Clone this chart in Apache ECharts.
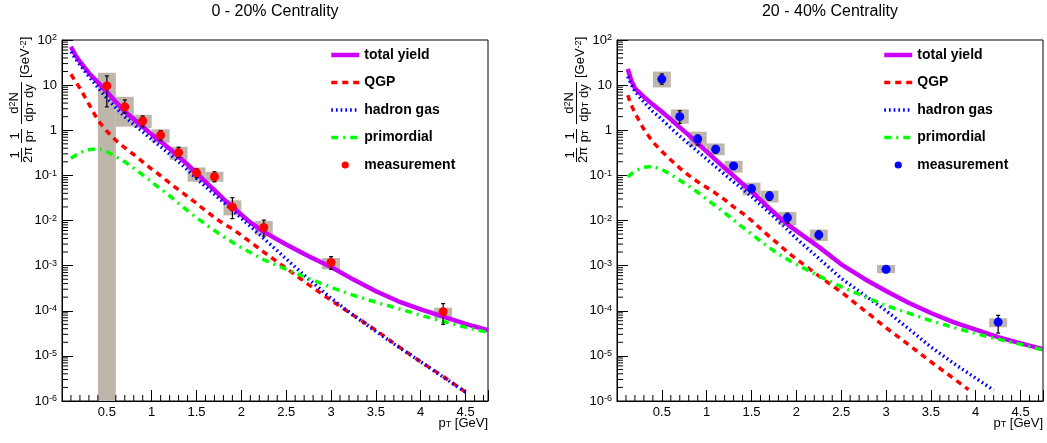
<!DOCTYPE html>
<html><head><meta charset="utf-8">
<script src="https://cdn.jsdelivr.net/npm/echarts@6/dist/echarts.min.js"></script>
<style>html,body{margin:0;padding:0;background:#fff}#c{width:1047px;height:443px}</style>
</head><body><div id="c"></div>
<script>
// ---------------- data ----------------
const panelTitles = ['0 - 20% Centrality', '20 - 40% Centrality'];
const legendNames = ['total yield', 'QGP', 'hadron gas', 'primordial', 'measurement'];
const xTickValues = [0.5, 1, 1.5, 2, 2.5, 3, 3.5, 4, 4.5];
const yTickValues = [1e-6, 1e-5, 1e-4, 1e-3, 1e-2, 1e-1, 1, 10, 100];

// 0 - 20 %
const totalYield020 = [[0.1,71],[0.15,46],[0.2,33],[0.3,18.6],[0.4,11.5],[0.5,7.1],[0.6,4.3],[0.7,2.6],[0.8,1.78],[0.9,1.2],[1.0,0.81],[1.1,0.56],[1.2,0.39],[1.3,0.26],[1.4,0.174],[1.5,0.112],[1.6,0.072],[1.7,0.047],[1.8,0.030],[1.9,0.020],[2.0,0.0135],[2.1,0.0091],[2.25,0.0056],[2.5,0.00295],[2.75,0.00162],[3.0,9.3e-4],[3.25,4.9e-4],[3.5,2.7e-4],[3.75,1.62e-4],[4.0,1.07e-4],[4.25,7.4e-5],[4.5,5.1e-5],[4.75,3.7e-5]];
const qgp020 = [[0.1,17.4],[0.15,12.0],[0.2,8.5],[0.3,3.8],[0.4,1.66],[0.5,0.95],[0.6,0.60],[0.7,0.41],[0.8,0.29],[0.9,0.20],[1.0,0.138],[1.1,0.098],[1.2,0.068],[1.3,0.048],[1.4,0.034],[1.5,0.024],[1.6,0.0166],[1.7,0.0117],[1.8,0.0085],[1.9,0.0065],[2.0,0.0047],[2.25,0.0020],[2.5,8.7e-4],[2.75,3.8e-4],[3.0,1.7e-4],[3.25,7.9e-5],[3.5,3.7e-5],[3.75,1.62e-5],[4.0,7.4e-6],[4.25,3.5e-6],[4.5,1.58e-6]];
const hadronGas020 = [[0.1,55],[0.15,38],[0.2,28],[0.3,15.5],[0.4,8.9],[0.5,5.1],[0.6,3.16],[0.7,2.0],[0.8,1.35],[0.9,0.93],[1.0,0.63],[1.1,0.43],[1.2,0.295],[1.3,0.20],[1.4,0.132],[1.5,0.085],[1.7,0.038],[1.9,0.017],[2.1,0.0074],[2.25,0.0040],[2.5,0.00141],[2.75,5.0e-4],[3.0,1.9e-4],[3.25,7.9e-5],[3.5,3.5e-5],[3.75,1.58e-5],[4.0,7.4e-6],[4.25,3.4e-6],[4.5,1.58e-6]];
const primordial020 = [[0.1,0.24],[0.2,0.32],[0.3,0.37],[0.4,0.39],[0.5,0.34],[0.6,0.26],[0.7,0.20],[0.8,0.145],[0.9,0.102],[1.0,0.072],[1.1,0.050],[1.2,0.035],[1.3,0.024],[1.4,0.0166],[1.5,0.0115],[1.6,0.0083],[1.7,0.0060],[1.8,0.0044],[1.9,0.0033],[2.0,0.0025],[2.25,0.00135],[2.5,8.3e-4],[2.75,5.2e-4],[3.0,3.3e-4],[3.25,2.2e-4],[3.5,1.55e-4],[3.75,1.12e-4],[4.0,7.9e-5],[4.25,5.8e-5],[4.5,4.3e-5],[4.75,3.3e-5]];
const measX020 = [0.5, 0.7, 0.9, 1.1, 1.3, 1.5, 1.7, 1.9, 2.25, 3.0, 4.25];
const measY020 = [9.6, 3.3, 1.6, 0.78, 0.32, 0.114, 0.093, 0.020, 0.0070, 1.17e-3, 9.5e-5];
const statLo020 = [3.3, 2.4, 1.20, 0.60, 0.25, 0.09, 0.072, 0.011, 0.0045, 8.3e-4, 5.0e-5];
const statHi020 = [16, 4.7, 2.07, 0.98, 0.42, 0.14, 0.12, 0.032, 0.0102, 1.58e-3, 1.44e-4];
const sysLo020 = [1e-7, 1.2, 1.12, 0.53, 0.22, 0.072, 0.072, 0.013, 0.0048, 8.3e-4, 6.8e-5];
const sysHi020 = [18.8, 5.5, 2.2, 1.05, 0.43, 0.15, 0.12, 0.028, 0.0098, 1.48e-3, 1.17e-4];

// 20 - 40 %
const totalYield2040 = [[0.12,23],[0.16,12.5],[0.2,8.5],[0.3,5.5],[0.4,3.7],[0.5,2.57],[0.6,1.74],[0.7,1.16],[0.8,0.78],[0.9,0.51],[1.0,0.335],[1.1,0.22],[1.2,0.146],[1.3,0.098],[1.4,0.065],[1.5,0.044],[1.6,0.0285],[1.7,0.0186],[1.8,0.0123],[1.9,0.0083],[2.0,0.0059],[2.25,0.0026],[2.5,0.00107],[2.75,5.2e-4],[3.0,2.75e-4],[3.25,1.51e-4],[3.5,8.9e-5],[3.75,5.6e-5],[4.0,3.8e-5],[4.25,2.6e-5],[4.5,1.9e-5],[4.75,1.41e-5]];
const qgp2040 = [[0.12,6.0],[0.15,4.0],[0.2,2.4],[0.3,1.05],[0.4,0.55],[0.5,0.34],[0.6,0.22],[0.7,0.145],[0.8,0.100],[0.9,0.072],[1.0,0.054],[1.1,0.040],[1.2,0.029],[1.3,0.020],[1.4,0.0145],[1.5,0.0100],[1.6,0.0066],[1.7,0.0044],[1.8,0.0030],[1.9,0.0020],[2.0,0.0014],[2.25,5.9e-4],[2.5,2.6e-4],[2.75,1.05e-4],[3.0,4.2e-5],[3.25,1.78e-5],[3.5,7.4e-6],[3.75,3.2e-6],[3.92,1.78e-6]];
const hadronGas2040 = [[0.12,15.5],[0.15,11.2],[0.2,7.2],[0.3,4.2],[0.4,2.6],[0.5,1.74],[0.6,1.12],[0.7,0.74],[0.8,0.50],[0.9,0.34],[1.0,0.23],[1.1,0.155],[1.2,0.105],[1.3,0.072],[1.4,0.050],[1.5,0.034],[1.6,0.0224],[1.7,0.0148],[1.8,0.0098],[1.9,0.0063],[2.0,0.0040],[2.25,0.00145],[2.5,5.2e-4],[2.75,2.3e-4],[3.0,1.0e-4],[3.25,4.0e-5],[3.5,1.58e-5],[3.75,6.9e-6],[4.0,3.2e-6],[4.2,1.74e-6]];
const primordial2040 = [[0.12,0.093],[0.2,0.126],[0.3,0.151],[0.4,0.158],[0.5,0.135],[0.6,0.105],[0.7,0.078],[0.8,0.058],[0.9,0.042],[1.0,0.030],[1.1,0.021],[1.2,0.0148],[1.3,0.0102],[1.4,0.0071],[1.5,0.0050],[1.6,0.0035],[1.7,0.0025],[1.8,0.0018],[1.9,0.00138],[2.0,0.00107],[2.25,5.9e-4],[2.5,3.4e-4],[2.75,2.1e-4],[3.0,1.3e-4],[3.25,8.9e-5],[3.5,6.0e-5],[3.75,4.3e-5],[4.0,3.1e-5],[4.25,2.35e-5],[4.5,1.8e-5],[4.75,1.35e-5]];
const measX2040 = [0.5, 0.7, 0.9, 1.1, 1.3, 1.5, 1.7, 1.9, 2.25, 3.0, 4.25];
const measY2040 = [13.6, 2.0, 0.64, 0.38, 0.162, 0.051, 0.035, 0.0115, 4.8e-3, 8.3e-4, 5.6e-5];
const statLo2040 = [10.5, 1.41, 0.47, 0.31, 0.135, 0.042, 0.028, 0.0088, 3.9e-3, 7.0e-4, 3.2e-5];
const statHi2040 = [17.7, 2.7, 0.78, 0.46, 0.19, 0.060, 0.043, 0.0145, 5.9e-3, 9.6e-4, 7.9e-5];
const sysLo2040 = [8.9, 1.4, 0.43, 0.28, 0.115, 0.036, 0.025, 0.0079, 3.5e-3, 6.8e-4, 4.3e-5];
const sysHi2040 = [20, 2.9, 0.93, 0.51, 0.21, 0.069, 0.046, 0.0155, 6.3e-3, 1.03e-3, 6.8e-5];

// ---------------- style / layout ----------------
const FONT = 'Liberation Sans, Arial, Helvetica, sans-serif';
const X_MIN = 0, X_MAX = 4.75, Y_MIN = 1e-6, Y_MAX = 100;
const BOX_HALF_WIDTH = 0.1;
const BOX_COLOR = '#beb5ab';
const C_TOTAL = '#cc00ff', C_QGP = '#ff0000', C_HG = '#0000ff', C_PRIM = '#00ff00';
const grids = [
  {left: 62, top: 40, width: 426, height: 361},
  {left: 617, top: 40, width: 426, height: 361}
];
const legendLeft = [329, 882];

// minor tick positions (axis furniture)
const xMinorTicks = [];
for (let i = 1; i < 48; i++) { if (i % 5 !== 0) xMinorTicks.push(+(i / 10).toFixed(1)); }
const yMinorTicks = [];
for (let e = -6; e < 2; e++) { for (let m = 2; m <= 9; m++) yMinorTicks.push(m * Math.pow(10, e)); }

const supRich = {
  n: {fontSize: 13, fontFamily: FONT, color: '#000', verticalAlign: 'bottom'},
  sup: {fontSize: 9, lineHeight: 9, fontFamily: FONT, color: '#000', padding: [0, 0, 7, 0], verticalAlign: 'top'},
  sub: {fontSize: 9, lineHeight: 9, fontFamily: FONT, color: '#000', padding: [7, 0, 0, 0], verticalAlign: 'bottom'},
  b: {fontSize: 13, fontFamily: FONT, color: '#000', verticalAlign: 'top'}
};

function yLabel(v) {
  const e = Math.round(Math.log10(v));
  if (e === 0) return '{n|1}';
  if (e === 1) return '{n|10}';
  return '{n|10}{sup|' + e + '}';
}
function xLabel(v) {
  if (v <= 0) return '';
  if (Math.abs(v * 2 - Math.round(v * 2)) > 1e-9) return '';
  return String(v);
}

function renderBox(params, api) {
  const x = api.value(0), lo = api.value(1), hi = api.value(2);
  const p1 = api.coord([x - BOX_HALF_WIDTH, hi]);
  const p2 = api.coord([x + BOX_HALF_WIDTH, lo]);
  const r = echarts.graphic.clipRectByRect(
    {x: p1[0], y: p1[1], width: p2[0] - p1[0], height: p2[1] - p1[1]}, params.coordSys);
  return r && {type: 'rect', shape: r, style: {fill: BOX_COLOR}};
}
function renderErr(params, api) {
  const x = api.value(0);
  const a = api.coord([x, api.value(1)]);
  const b = api.coord([x, api.value(2)]);
  const st = {stroke: '#000', lineWidth: 1.2};
  return {type: 'group', children: [
    {type: 'line', shape: {x1: a[0], y1: a[1], x2: b[0], y2: b[1]}, style: st},
    {type: 'line', shape: {x1: a[0] - 2, y1: a[1], x2: a[0] + 2, y2: a[1]}, style: st},
    {type: 'line', shape: {x1: b[0] - 2, y1: b[1], x2: b[0] + 2, y2: b[1]}, style: st}
  ]};
}
function renderYMinor(params, api) {
  const p = api.coord([api.value(0), api.value(1)]);
  return {type: 'line', shape: {x1: p[0], y1: p[1], x2: p[0] + 6, y2: p[1]}, style: {stroke: '#000', lineWidth: 1}};
}
function renderXMinor(params, api) {
  const p = api.coord([api.value(0), api.value(1)]);
  return {type: 'line', shape: {x1: p[0], y1: p[1], x2: p[0], y2: p[1] - 6}, style: {stroke: '#000', lineWidth: 1}};
}

const panels = [
  {total: totalYield020, qgp: qgp020, hg: hadronGas020, prim: primordial020,
   mx: measX020, my: measY020, sl: statLo020, sh: statHi020, yl: sysLo020, yh: sysHi020, mc: '#ff0000', suffix: ''},
  {total: totalYield2040, qgp: qgp2040, hg: hadronGas2040, prim: primordial2040,
   mx: measX2040, my: measY2040, sl: statLo2040, sh: statHi2040, yl: sysLo2040, yh: sysHi2040, mc: '#0000ff', suffix: ' '}
];

const series = [];
const legends = [];
const xAxes = [], yAxes = [];
const graphics = [];

panels.forEach((P, i) => {
  const nm = legendNames.map(n => n + P.suffix);
  xAxes.push({
    type: 'value', gridIndex: i, min: X_MIN, max: X_MAX, interval: 0.5,
    axisLine: {show: true, onZero: false, lineStyle: {color: '#000', width: 1}},
    axisTick: {show: true, inside: true, length: 11, lineStyle: {color: '#000', width: 1}},
    axisLabel: {show: true, margin: 5, formatter: xLabel, color: '#000', fontSize: 13, fontFamily: FONT},
    splitLine: {show: false}
  });
  yAxes.push({
    type: 'log', logBase: 10, gridIndex: i, min: Y_MIN, max: Y_MAX, splitNumber: 8,
    axisLine: {show: true, onZero: false, lineStyle: {color: '#000', width: 1}},
    axisTick: {show: true, inside: true, length: 11, lineStyle: {color: '#000', width: 1}},
    axisLabel: {show: true, margin: 5, formatter: yLabel, rich: supRich},
    splitLine: {show: false}
  });
  const base = {xAxisIndex: i, yAxisIndex: i, animation: false, silent: true};
  series.push(Object.assign({type: 'custom', name: 'sys' + i, renderItem: renderBox, z: 1,
    encode: {x: 0, y: [1, 2]},
    data: P.mx.map((x, k) => [x, P.yl[k], P.yh[k]])}, base));
  series.push(Object.assign({type: 'custom', name: 'ytick' + i, renderItem: renderYMinor, z: 5,
    data: yMinorTicks.map(v => [X_MIN, v])}, base));
  series.push(Object.assign({type: 'custom', name: 'xtick' + i, renderItem: renderXMinor, z: 5,
    data: xMinorTicks.map(v => [v, Y_MIN])}, base));
  const lineBase = Object.assign({type: 'line', symbol: 'none', smooth: false, z: 2}, base);
  series.push(Object.assign({}, lineBase, {name: nm[0], data: P.total, itemStyle: {color: C_TOTAL},
    lineStyle: {color: C_TOTAL, width: 4.5, type: 'solid', join: 'round'}}));
  series.push(Object.assign({}, lineBase, {name: nm[1], data: P.qgp, itemStyle: {color: C_QGP},
    lineStyle: {color: C_QGP, width: 3.5, type: [6, 5]}}));
  series.push(Object.assign({}, lineBase, {name: nm[2], data: P.hg, itemStyle: {color: C_HG},
    lineStyle: {color: C_HG, width: 3.5, type: [1.7, 3]}}));
  series.push(Object.assign({}, lineBase, {name: nm[3], data: P.prim, itemStyle: {color: C_PRIM},
    lineStyle: {color: C_PRIM, width: 3.5, type: [7, 5, 2, 5]}}));
  series.push(Object.assign({type: 'custom', name: 'stat' + i, renderItem: renderErr, z: 3,
    encode: {x: 0, y: [1, 2]},
    data: P.mx.map((x, k) => [x, P.sl[k], P.sh[k]])}, base));
  series.push(Object.assign({type: 'line', name: nm[4], symbol: 'circle', symbolSize: 9, showSymbol: true,
    showAllSymbol: true, z: 4, data: P.mx.map((x, k) => [x, P.my[k]]),
    itemStyle: {color: P.mc, borderWidth: 0}, lineStyle: {width: 0, opacity: 0}}, base));
  legends.push({
    orient: 'vertical', left: legendLeft[i], top: 48, itemWidth: 28, itemHeight: 9, itemGap: 13.5,
    selectedMode: false, padding: 0,
    textStyle: {fontFamily: FONT, fontWeight: 'bold', fontSize: 14, color: '#000', lineHeight: 14},
    lineStyle: {width: 'inherit'},
    formatter: n => n.trim(),
    data: nm.map((n, k) => k < 4 ? {name: n, itemStyle: {opacity: 0}} : {name: n})
  });
  const gx = grids[i].left, gw = grids[i].width;
  graphics.push({type: 'text', x: gx + gw / 2, y: 12, silent: true,
    style: {text: panelTitles[i], fill: '#000', font: '16px ' + FONT, align: 'center', verticalAlign: 'middle'}});
  graphics.push({type: 'text', x: gx + gw, y: 423, silent: true,
    style: {text: '{b|p}{sub|T}{b| [GeV]}', rich: supRich, align: 'right', verticalAlign: 'middle'}});
  const tstyle = (t, a) => ({text: t, rich: supRich, fill: '#000', font: '13px ' + FONT, align: a || 'center', verticalAlign: 'middle'});
  graphics.push({type: 'group', x: gx - 40.5, y: 163, rotation: Math.PI / 2, silent: true, children: [
    {type: 'text', x: 8, y: -6.5, style: tstyle('{n|1}')},
    {type: 'line', shape: {x1: 1, y1: 0, x2: 15, y2: 0}, style: {stroke: '#000', lineWidth: 1}},
    {type: 'text', x: 8, y: 6.5, style: tstyle('{b|2π}')},
    {type: 'text', x: 27, y: -6.5, style: tstyle('{n|1}')},
    {type: 'line', shape: {x1: 20, y1: 0, x2: 34, y2: 0}, style: {stroke: '#000', lineWidth: 1}},
    {type: 'text', x: 27, y: 7.5, style: tstyle('{b|p}{sub|T}')},
    {type: 'text', x: 60, y: -7, style: tstyle('{n|d}{sup|2}{n|N}')},
    {type: 'line', shape: {x1: 39, y1: 0, x2: 81, y2: 0}, style: {stroke: '#000', lineWidth: 1}},
    {type: 'text', x: 60, y: 7.5, style: tstyle('{b|dp}{sub|T}{b| dy}')},
    {type: 'text', x: 85, y: 4, style: tstyle('{n|[GeV}{sup|-2}{n|]}', 'left')}
  ]});
});

const chart = echarts.init(document.getElementById('c'), null, {renderer: 'canvas'});
chart.setOption({
  animation: false,
  backgroundColor: '#fff',
  grid: grids.map(g => Object.assign({show: true, borderColor: '#000', borderWidth: 1,
    backgroundColor: 'transparent', containLabel: false, outerBoundsMode: 'none'}, g)),
  xAxis: xAxes,
  yAxis: yAxes,
  legend: legends,
  series: series,
  graphic: graphics
});
</script>
</body></html>
